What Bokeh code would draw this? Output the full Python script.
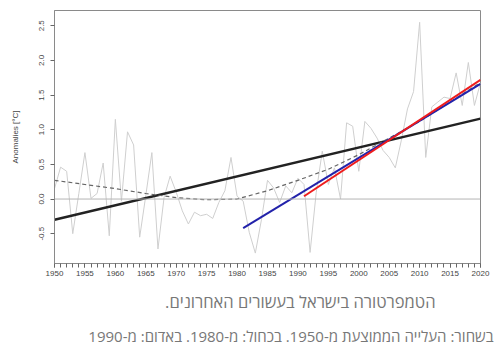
from bokeh.plotting import figure
from bokeh.models import FixedTicker, Range1d, Title, Span
from bokeh.embed import file_html
from bokeh.resources import INLINE

# ---- data ----
years = list(range(1950, 2021))
anomalies = [
    0.15, 0.46, 0.40, -0.50, 0.08, 0.67, 0.01, 0.08, 0.52, -0.53,
    1.15, -0.03, 0.97, 0.78, -0.55, 0.05, 0.67, -0.72, 0.02, 0.33,
    0.10, -0.17, -0.36, -0.19, -0.24, -0.22, -0.28, -0.05, 0.12, 0.60,
    0.04, -0.03, -0.48, -0.78, -0.30, 0.27, 0.16, -0.05, 0.19, 0.09,
    0.30, 0.21, -0.77, 0.09, 0.69, 0.21, 0.45, 0.00, 1.10, 1.05,
    0.40, 1.12, 1.02, 0.88, 0.70, 0.60, 0.45, 0.85, 1.30, 1.55,
    2.55, 0.60, 1.33, 1.40, 1.47, 1.45, 1.82, 1.35, 1.97, 1.35,
    1.68,
]
smooth_years = [1950, 1955, 1960, 1965, 1970, 1975, 1980, 1985, 1990, 1995, 2000, 2005, 2010, 2015, 2020]
smooth_vals = [0.27, 0.21, 0.15, 0.08, 0.02, -0.01, 0.00, 0.12, 0.27, 0.43, 0.64, 0.88, 1.12, 1.40, 1.68]
trend1950_years = [1950, 2020]
trend1950_vals = [-0.30, 1.16]
trend1980_years = [1981, 2020]
trend1980_vals = [-0.42, 1.66]
trend1990_years = [1991, 2020]
trend1990_vals = [0.04, 1.72]

x_ticks = list(range(1950, 2021, 5))
y_ticks = [-0.5, 0.0, 0.5, 1.0, 1.5, 2.0, 2.5]
y_tick_labels = ["-0.5", "0.0", "0.5", "1.0", "1.5", "2.0", "2.5"]
y_label = "Anomalies [°C]"
caption1 = "הטמפרטורה בישראל בעשורים האחרונים."
caption2 = "בשחור: העלייה הממוצעת מ-1950. בכחול: מ-1980. באדום: מ-1990"

RLE, PDF = "\u202b", "\u202c"

p = figure(width=500, height=353, output_backend="svg", toolbar_location=None,
           x_range=Range1d(1950, 2020), y_range=Range1d(-0.93, 2.72),
           min_border_left=54, min_border_right=20, min_border_top=10, min_border_bottom=90)
p.background_fill_color = "white"
p.border_fill_color = "white"
p.outline_line_color = "#8a8a8a"
p.outline_line_width = 1
p.xgrid.visible = False
p.ygrid.visible = False

FONT = "Liberation Sans"
for ax in (p.xaxis[0], p.yaxis[0]):
    ax.axis_line_color = "#8a8a8a"
    ax.major_tick_line_color = "#666666"
    ax.minor_tick_line_color = "#666666"
    ax.major_tick_out = 4
    ax.major_tick_in = 0
    ax.major_label_text_font = FONT
    ax.major_label_text_font_size = "8px"
    ax.major_label_text_color = "#444444"

p.xaxis.ticker = FixedTicker(ticks=x_ticks, minor_ticks=years)
p.xaxis.minor_tick_out = 4
p.xaxis.minor_tick_in = 0
p.xaxis.major_label_standoff = 3

p.yaxis.ticker = FixedTicker(ticks=y_ticks, minor_ticks=[])
p.yaxis.major_label_overrides = {t: l for t, l in zip(y_ticks, y_tick_labels)}
p.yaxis.major_label_orientation = "vertical"
p.yaxis.major_label_standoff = 6
p.yaxis.axis_label = y_label
p.yaxis.axis_label_text_font = FONT
p.yaxis.axis_label_text_font_size = "8px"
p.yaxis.axis_label_text_font_style = "normal"
p.yaxis.axis_label_text_color = "#444444"
p.yaxis.axis_label_standoff = 17

# data
p.line(years, anomalies, line_color="#cfcfcf", line_width=1)
p.add_layout(Span(location=0, dimension="width", line_color="#b5b5b5", line_width=1))
p.line(trend1950_years, trend1950_vals, line_color="#222222", line_width=2.5)
p.line(smooth_years, smooth_vals, line_color="#666666", line_width=1.2, line_dash="4 3")
p.line(trend1980_years, trend1980_vals, line_color="#2222aa", line_width=2)
p.line(trend1990_years, trend1990_vals, line_color="#ee1c1c", line_width=2)

# caption (Hebrew, right-to-left) as titles below the x axis
t1 = Title(text=RLE + caption1 + PDF, align="right", offset=45, standoff=18,
           text_font="Open Sans", text_font_size="16.5px", text_font_style="normal",
           text_color="#777777")
t2 = Title(text=RLE + caption2 + PDF, align="right", offset=-13, standoff=5,
           text_font="Open Sans", text_font_size="15px", text_font_style="normal",
           text_color="#777777")
p.add_layout(t1, "below")
p.add_layout(t2, "below")

open("out.html", "w").write(file_html(p, INLINE))
